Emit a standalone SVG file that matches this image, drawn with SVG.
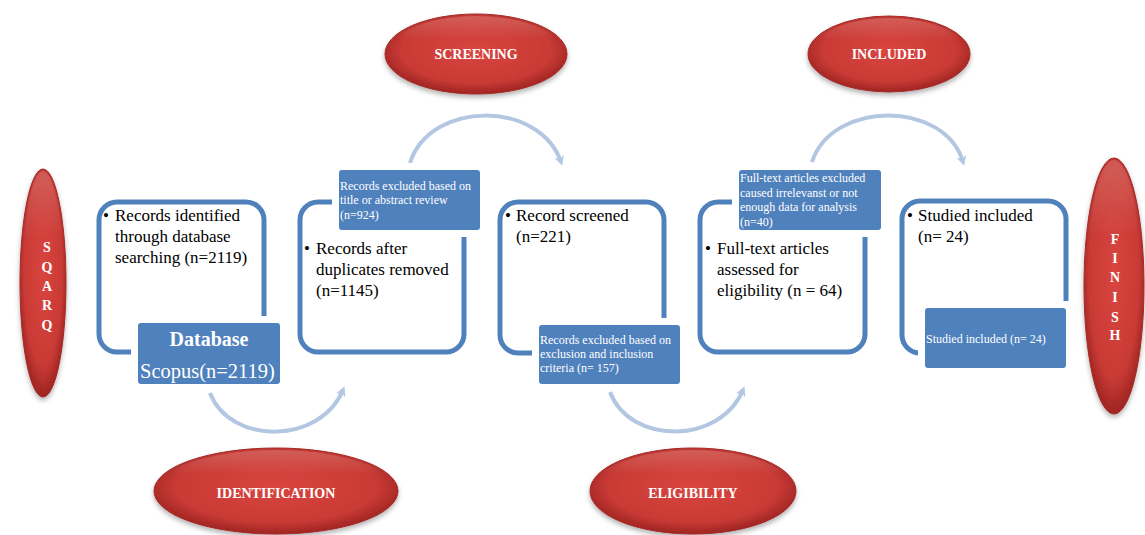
<svg xmlns="http://www.w3.org/2000/svg" width="1145" height="535" viewBox="0 0 1145 535">
<defs>
<radialGradient id="red" cx="50%" cy="45%" r="55%">
<stop offset="0" stop-color="#d9453f"/>
<stop offset="0.75" stop-color="#c93a35"/>
<stop offset="1" stop-color="#9e2422"/>
</radialGradient>
<linearGradient id="hl" x1="0" y1="0" x2="0" y2="1">
<stop offset="0" stop-color="#ffffff" stop-opacity="0.18"/>
<stop offset="0.3" stop-color="#ffffff" stop-opacity="0"/>
</linearGradient>
<filter id="sh" x="-20%" y="-20%" width="140%" height="150%">
<feDropShadow dx="0" dy="3" stdDeviation="2.5" flood-color="#000" flood-opacity="0.3"/>
</filter>
<marker id="ah" markerWidth="12" markerHeight="12" refX="6" refY="5" orient="auto" markerUnits="userSpaceOnUse">
<path d="M0,0 L10,5 L0,10 L3,5 Z" fill="#b4c7e2"/>
</marker>
</defs>
<style>
.ell{fill:url(#red);stroke:#a32a27;stroke-width:1;filter:url(#sh)}
.hl{fill:url(#hl)}
.lbl{font-family:"Liberation Serif",serif;font-weight:bold;font-size:14px;fill:#fff;text-anchor:middle}
.box{fill:#fff;stroke:#4f81bd;stroke-width:5}
.gap{fill:#fff}
.ov{fill:#4f81bd}
.body{font-family:"Liberation Serif",serif;font-size:17px;fill:#000}
.small{font-family:"Liberation Serif",serif;font-size:12px;fill:#fff}
.arc{fill:none;stroke:#b4c7e2;stroke-width:4;marker-end:url(#ah)}
</style>
<rect width="1145" height="535" fill="#fff"/>

<g id="connectors">
<path class="arc" d="M210,393 C230,445 320,445 343,390"/>
<path class="arc" d="M410,163 C430,100 540,100 561,162"/>
<path class="arc" d="M610,392 C630,445 720,445 743,390"/>
<path class="arc" d="M812,162 C832,100 945,100 963,162"/>
</g>

<g id="sqarq">
<ellipse class="ell" cx="43" cy="283" rx="23" ry="114"/>
<ellipse class="hl" cx="43" cy="283" rx="21" ry="112"/>
<text class="lbl" x="47" y="252">S</text>
<text class="lbl" x="47" y="272">Q</text>
<text class="lbl" x="47" y="291">A</text>
<text class="lbl" x="47" y="310">R</text>
<text class="lbl" x="47" y="330">Q</text>
</g>

<g id="finish">
<ellipse class="ell" cx="1114" cy="286" rx="30" ry="128"/>
<ellipse class="hl" cx="1114" cy="286" rx="28" ry="126"/>
<text class="lbl" x="1115" y="244">F</text>
<text class="lbl" x="1115" y="263">I</text>
<text class="lbl" x="1115" y="282">N</text>
<text class="lbl" x="1115" y="302">I</text>
<text class="lbl" x="1115" y="322">S</text>
<text class="lbl" x="1115" y="340">H</text>
</g>

<g id="screening">
<ellipse class="ell" cx="476" cy="54" rx="91" ry="40"/>
<ellipse class="hl" cx="476" cy="54" rx="89" ry="38"/>
<text class="lbl" x="476" y="59">SCREENING</text>
</g>

<g id="included">
<ellipse class="ell" cx="889" cy="54" rx="81" ry="38"/>
<ellipse class="hl" cx="889" cy="54" rx="79" ry="36"/>
<text class="lbl" x="889" y="59">INCLUDED</text>
</g>

<g id="identification">
<ellipse class="ell" cx="276" cy="491" rx="122" ry="43"/>
<ellipse class="hl" cx="276" cy="491" rx="120" ry="41"/>
<text class="lbl" x="276" y="498">IDENTIFICATION</text>
</g>

<g id="eligibility">
<ellipse class="ell" cx="693" cy="491" rx="103" ry="43"/>
<ellipse class="hl" cx="693" cy="491" rx="101" ry="41"/>
<text class="lbl" x="693" y="498">ELIGIBILITY</text>
</g>

<g id="box1">
<rect class="box" x="99" y="202" width="165" height="150" rx="18"/>
<rect class="gap" x="131" y="316" width="156" height="75"/>
<rect class="ov" x="138" y="323" width="142" height="61" rx="3"/>
<text class="body" x="103" y="221">•</text>
<text class="body" x="115" y="221">Records identified</text>
<text class="body" x="115" y="242">through database</text>
<text class="body" x="115" y="263">searching (n=2119)</text>
<text x="209" y="346" font-family="Liberation Serif, serif" font-weight="bold" font-size="20" fill="#fff" text-anchor="middle">Database</text>
<text x="140" y="378" font-family="Liberation Serif, serif" font-size="20.5" fill="#fff">Scopus(n=2119)</text>
</g>

<g id="box2">
<rect class="box" x="300" y="202" width="164" height="150" rx="18"/>
<rect class="gap" x="332" y="163" width="155" height="74"/>
<rect class="ov" x="339" y="170" width="141" height="60" rx="3"/>
<text class="small" x="340" y="190">Records excluded based on</text>
<text class="small" x="340" y="204">title or abstract review</text>
<text class="small" x="340" y="219">(n=924)</text>
<text class="body" x="304" y="254">•</text>
<text class="body" x="316" y="254">Records after</text>
<text class="body" x="316" y="275">duplicates removed</text>
<text class="body" x="316" y="296">(n=1145)</text>
</g>

<g id="box3">
<rect class="box" x="500" y="202" width="164" height="151" rx="18"/>
<rect class="gap" x="532" y="318" width="155" height="73"/>
<rect class="ov" x="539" y="325" width="141" height="59" rx="3"/>
<text class="small" x="540" y="344">Records excluded based on</text>
<text class="small" x="540" y="358">exclusion and inclusion</text>
<text class="small" x="540" y="372">criteria (n= 157)</text>
<text class="body" x="505" y="221">•</text>
<text class="body" x="516" y="221">Record screened</text>
<text class="body" x="516" y="242">(n=221)</text>
</g>

<g id="box4">
<rect class="box" x="700" y="202" width="165" height="150" rx="18"/>
<rect class="gap" x="732" y="163" width="156" height="74"/>
<rect class="ov" x="739" y="170" width="142" height="60" rx="3"/>
<text class="small" x="740" y="182">Full-text articles excluded</text>
<text class="small" x="740" y="197">caused irrelevanst or not</text>
<text class="small" x="740" y="211">enough data for analysis</text>
<text class="small" x="740" y="226">(n=40)</text>
<text class="body" x="705" y="254">•</text>
<text class="body" x="717" y="254">Full-text articles</text>
<text class="body" x="717" y="275">assessed for</text>
<text class="body" x="717" y="296">eligibility (n = 64)</text>
</g>

<g id="box5">
<rect class="box" x="902" y="201" width="164" height="152" rx="18"/>
<rect class="gap" x="918" y="301" width="156" height="74"/>
<rect class="ov" x="925" y="308" width="141" height="60" rx="3"/>
<text class="small" x="926" y="343">Studied included (n= 24)</text>
<text class="body" x="907" y="221">•</text>
<text class="body" x="918" y="221">Studied included</text>
<text class="body" x="918" y="242">(n= 24)</text>
</g>
</svg>
